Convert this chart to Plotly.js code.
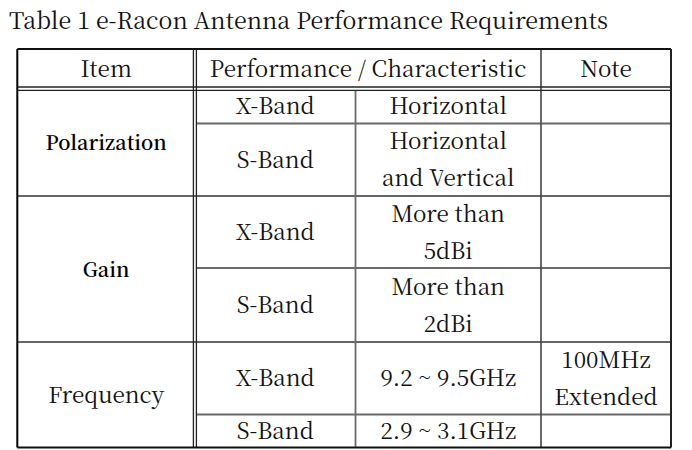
<!DOCTYPE html>
<html>
<head>
<meta charset="utf-8">
<script src="https://cdn.plot.ly/plotly-3.0.1.min.js"></script>
<style>html,body{margin:0;padding:0;background:#fff;}#chart{width:692px;height:450px;}</style>
</head>
<body>
<div id="chart"></div>
<script>
// ---- table content ----
const tableTitle = "Table 1 e-Racon Antenna Performance Requirements";
const headerLabels = ["Item", "Performance / Characteristic", "Note"];
const itemNames = ["Polarization", "Gain", "Frequency"];
const itemRowSpans = [2, 2, 2];
const bandNames = ["X-Band", "S-Band", "X-Band", "S-Band", "X-Band", "S-Band"];
const characteristics = [
  ["Horizontal"],
  ["Horizontal", "and Vertical"],
  ["More than", "5dBi"],
  ["More than", "2dBi"],
  ["9.2 ~ 9.5GHz"],
  ["2.9 ~ 3.1GHz"]
];
const notes = [[], [], [], [], ["100MHz", "Extended"], []];

// ---- geometry (layout, in axis units = pixels) ----
const W = 692, H = 450;
const tableTop = 49, headerBottom = 88.8, tableBottom = 447.5;
const rowEdges = [88.8, 123.5, 196, 268, 342, 414.5, 447.5];
const colLeft = 17.3, colItemEnd = 195, colBand = 355.5, colNote = 541, colRight = 671;
const lineGap = 37;
const textShift = 2.5;

const mainFont = {family: "Noto Serif CJK SC", size: 22.5, color: "#111"};
const itemFont = {family: "Noto Serif CJK SC", size: 20, weight: 600, color: "#000"};

function mid(a, b) { return (a + b) / 2; }

const traces = [];
function textTrace(xs, ys, texts, font) {
  traces.push({
    type: "scatter", mode: "text", x: xs, y: ys, text: texts,
    textposition: "middle center", textfont: Object.assign({}, font),
    showlegend: false
  });
}

// header
const headerX = [mid(colLeft, colItemEnd), mid(colItemEnd, colNote), mid(colNote, colRight)];
textTrace(headerX, headerLabels.map(() => mid(tableTop, headerBottom) + textShift), headerLabels, mainFont);

// items (Frequency uses main font)
let r = 0;
const itemX = [], itemY = [];
itemNames.forEach((n, i) => {
  const y0 = rowEdges[r], y1 = rowEdges[r + itemRowSpans[i]];
  itemX.push(mid(colLeft, colItemEnd));
  itemY.push(mid(y0, y1) + textShift + 0.5);
  r += itemRowSpans[i];
});
textTrace(itemX.slice(0, 2), itemY.slice(0, 2), itemNames.slice(0, 2), itemFont);
textTrace(itemX.slice(2), itemY.slice(2), itemNames.slice(2), mainFont);

// bands
textTrace(bandNames.map(() => mid(colItemEnd, colBand)),
  bandNames.map((b, i) => mid(rowEdges[i], rowEdges[i + 1]) + textShift), bandNames, mainFont);

// multi-line cells
function multiCells(cells, xc) {
  const xs = [], ys = [], ts = [];
  cells.forEach((lines, i) => {
    const c = mid(rowEdges[i], rowEdges[i + 1]) + textShift;
    lines.forEach((t, k) => {
      xs.push(xc);
      ys.push(c + (k - (lines.length - 1) / 2) * lineGap);
      ts.push(t);
    });
  });
  textTrace(xs, ys, ts, mainFont);
}
multiCells(characteristics, mid(colBand, colNote));
multiCells(notes, mid(colNote, colRight));

// ---- grid lines ----
const shapes = [];
function line(x0, y0, x1, y1, color, width) {
  shapes.push({type: "line", xref: "x", yref: "y", x0, y0, x1, y1,
    line: {color, width}, layer: "above"});
}
const dark = "#222", grey = "#6a6a6a";
r = 0;
itemRowSpans.forEach((s, i) => {
  for (let k = 1; k < s; k++) line(colItemEnd + 1.5, rowEdges[r + k], colRight, rowEdges[r + k], grey, 1.8);
  r += s;
  if (i < itemRowSpans.length - 1) line(colLeft, rowEdges[r], colRight, rowEdges[r], "#333", 1.6);
});
line(colBand, headerBottom + 1.5, colBand, tableBottom, grey, 1.8);
line(colNote, tableTop, colNote, tableBottom, "#444", 1.6);
line(colLeft, headerBottom - 1.8, colRight, headerBottom - 1.8, dark, 1.3);
line(colLeft, headerBottom + 1.6, colRight, headerBottom + 1.6, dark, 1.3);
line(colItemEnd - 1.6, tableTop, colItemEnd - 1.6, tableBottom, dark, 1.3);
line(colItemEnd + 1.4, tableTop, colItemEnd + 1.4, tableBottom, dark, 1.3);
line(colLeft, tableTop, colRight, tableTop, "#111", 1.8);
line(colLeft, tableBottom, colRight, tableBottom, "#111", 1.8);
line(colLeft, tableTop, colLeft, tableBottom, "#000", 2);
line(colRight, tableTop, colRight, tableBottom, "#222", 2);

const layout = {
  width: W, height: H,
  margin: {l: 0, r: 0, t: 0, b: 0, pad: 0},
  paper_bgcolor: "#fff", plot_bgcolor: "#fff",
  title: {text: tableTitle, x: 9 / W, xanchor: "left", xref: "paper",
    y: 1 - 20.5 / H, yanchor: "middle", yref: "container",
    font: {family: "Noto Serif CJK SC", size: 23.2, color: "#111"}},
  xaxis: {range: [0, W], visible: false, fixedrange: true},
  yaxis: {range: [H, 0], visible: false, fixedrange: true},
  shapes: shapes,
  hovermode: false,
  showlegend: false
};
Plotly.newPlot("chart", traces, layout, {displayModeBar: false});
</script>
</body>
</html>
